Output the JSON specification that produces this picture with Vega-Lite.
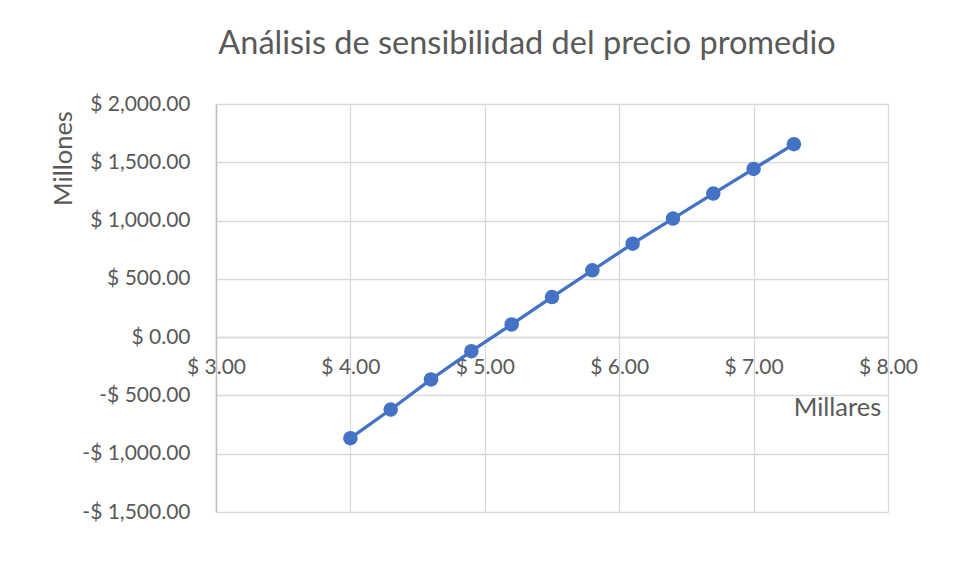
{
  "$schema": "https://vega.github.io/schema/vega-lite/v6.json",
  "width": 672,
  "height": 408,
  "autosize": "none",
  "padding": {"left": 216, "top": 104, "right": 73, "bottom": 67},
  "background": "white",
  "title": {
    "text": "Análisis de sensibilidad del precio promedio",
    "font": "Lato",
    "fontSize": 32.5,
    "fontWeight": "normal",
    "color": "#595959",
    "anchor": "middle",
    "dx": -25,
    "baseline": "alphabetic",
    "offset": 7
  },
  "config": {
    "view": {"stroke": null},
    "axis": {
      "labelFont": "Lato",
      "labelFontSize": 21,
      "labelColor": "#595959",
      "titleFont": "Lato",
      "titleFontSize": 25.5,
      "titleFontWeight": "normal",
      "titleColor": "#595959",
      "gridColor": "#d9d9d9",
      "gridWidth": 1.3,
      "ticks": false,
      "tickSize": 0
    }
  },
  "data": {
    "values": [
      {"precio": 4.0, "resultado": -867},
      {"precio": 4.3, "resultado": -621},
      {"precio": 4.6, "resultado": -363},
      {"precio": 4.9, "resultado": -120},
      {"precio": 5.2, "resultado": 109},
      {"precio": 5.5, "resultado": 344},
      {"precio": 5.8, "resultado": 573},
      {"precio": 6.1, "resultado": 802},
      {"precio": 6.4, "resultado": 1017},
      {"precio": 6.7, "resultado": 1232},
      {"precio": 7.0, "resultado": 1443},
      {"precio": 7.3, "resultado": 1655}
    ]
  },
  "encoding": {
    "x": {
      "field": "precio",
      "type": "quantitative",
      "scale": {"domain": [3, 8], "nice": false, "zero": false},
      "axis": {
        "values": [3, 4, 5, 6, 7, 8],
        "labelExpr": "'$ ' + format(datum.value, '.2f')",
        "offset": -175,
        "labelPadding": 30,
        "labelBaseline": "middle",
        "labelFlush": false,
        "domainColor": "#d9d9d9",
        "domainWidth": 1.3,
        "title": "Millares",
        "titleAnchor": "start",
        "titleAlign": "center",
        "titleBaseline": "middle",
        "titleX": 621,
        "titleY": 70
      }
    },
    "y": {
      "field": "resultado",
      "type": "quantitative",
      "scale": {"domain": [-1500, 2000], "nice": false, "zero": false},
      "axis": {
        "values": [-1500, -1000, -500, 0, 500, 1000, 1500, 2000],
        "labelExpr": "datum.value < 0 ? '-$ ' + format(-datum.value, ',.2f') : '$ ' + format(datum.value, ',.2f')",
        "labelPadding": 26,
        "labelBaseline": "middle",
        "labelFlush": false,
        "domainColor": "#bfbfbf",
        "domainWidth": 1.5,
        "title": "Millones",
        "titleAngle": -90,
        "titleAlign": "center",
        "titleBaseline": "middle",
        "titleX": -153,
        "titleY": 54
      }
    }
  },
  "layer": [
    {"mark": {"type": "line", "color": "#4472c4", "strokeWidth": 3.3}},
    {"mark": {"type": "point", "filled": true, "color": "#4472c4", "opacity": 1, "size": 210}}
  ]
}
